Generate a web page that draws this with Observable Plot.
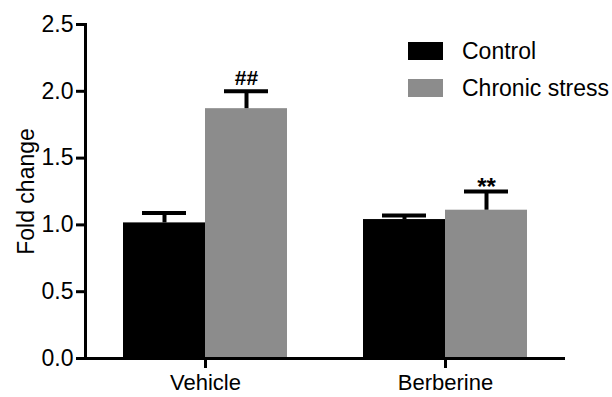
<!DOCTYPE html>
<html>
<head>
<meta charset="utf-8">
<script src="https://cdn.jsdelivr.net/npm/d3@7"></script>
<script src="https://cdn.jsdelivr.net/npm/@observablehq/plot@0.6"></script>
<style>
  html, body { margin: 0; padding: 0; background: #fff; }
  #wrap { position: relative; width: 612px; height: 397px; font-family: "Liberation Sans", Arial, sans-serif; }
  .legend { position: absolute; left: 408px; top: 42px; font-size: 23px; color: #000; }
  .legend .row { display: flex; align-items: center; height: 18px; margin-bottom: 19px; }
  .legend .sw { width: 35px; height: 18px; margin-right: 19px; }
</style>
</head>
<body>
<div id="wrap"></div>
<script>
const groups = ["Vehicle", "Berberine"];
const conditions = ["Control", "Chronic stress"];
const colors = ["#000000", "#8c8c8c"];
const controlMean = [1.015, 1.04];
const controlSEM = [0.075, 0.03];
const stressMean = [1.87, 1.11];
const stressSEM = [0.13, 0.14];
const stressSig = ["##", "**"];
const yTicks = [0, 0.5, 1.0, 1.5, 2.0, 2.5];
const yLabel = "Fold change";

const rows = groups.flatMap((g, i) => [
  {group: g, condition: conditions[0], mean: controlMean[i], sem: controlSEM[i], sig: ""},
  {group: g, condition: conditions[1], mean: stressMean[i], sem: stressSEM[i], sig: stressSig[i]}
]);

const font = "'Liberation Sans', Arial, sans-serif";

const chart = Plot.plot({
  width: 612,
  height: 397,
  marginLeft: 85,
  marginRight: 47,
  marginTop: 24,
  marginBottom: 39,
  style: {fontFamily: font, fontSize: "23px", color: "#000", background: "#fff"},
  fx: {domain: groups, padding: 0, label: null},
  x: {domain: conditions, paddingInner: 0, paddingOuter: 0.45, axis: null},
  y: {domain: [0, 2.5]},
  color: {domain: conditions, range: colors},
  marks: [
    Plot.barY(rows, {fx: "group", x: "condition", y: "mean", fill: "condition"}),
    Plot.ruleX(rows, {fx: "group", x: "condition", y1: "mean", y2: d => d.mean + d.sem, stroke: "#000", strokeWidth: 4}),
    Plot.tickY(rows, {fx: "group", x: "condition", y: d => d.mean + d.sem, stroke: "#000", strokeWidth: 4, inset: 19}),
    Plot.text(rows.filter(d => d.sig === "##"), {fx: "group", x: "condition", y: d => d.mean + d.sem, text: "sig", lineAnchor: "bottom", dy: -6, fontSize: 21, fontWeight: "bold"}),
    Plot.text(rows.filter(d => d.sig === "**"), {fx: "group", x: "condition", y: d => d.mean + d.sem, text: "sig", lineAnchor: "bottom", dy: 3, fontSize: 24, fontWeight: "bold", letterSpacing: "2px"}),
    Plot.ruleY([0], {stroke: "#000", strokeWidth: 3}),
    Plot.frame({anchor: "left", facetAnchor: "left", stroke: "#000", strokeWidth: 3}),
    Plot.axisY({ticks: yTicks, tickFormat: d3.format(".1f"), tickSize: 9, tickPadding: 3, strokeWidth: 3,
      label: yLabel, labelAnchor: "center", labelArrow: "none", labelOffset: 68, fontSize: 23}),
    Plot.axisFx({anchor: "bottom", tickSize: 10, tickPadding: 6, strokeWidth: 3, label: null, fontSize: 22})
  ]
});

const wrap = document.getElementById("wrap");
wrap.appendChild(chart);

const legend = document.createElement("div");
legend.className = "legend";
conditions.forEach((c, i) => {
  const row = document.createElement("div");
  row.className = "row";
  const sw = document.createElement("div");
  sw.className = "sw";
  sw.style.background = colors[i];
  const t = document.createElement("span");
  t.textContent = c;
  row.appendChild(sw);
  row.appendChild(t);
  legend.appendChild(row);
});
wrap.appendChild(legend);
</script>
</body>
</html>
